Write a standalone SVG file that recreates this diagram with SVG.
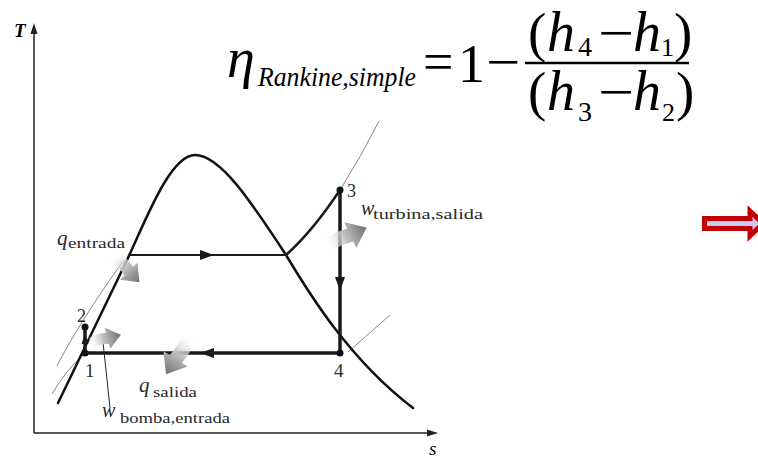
<svg xmlns="http://www.w3.org/2000/svg" width="758" height="458" viewBox="0 0 758 458">
<style>
.ser{font-family:"Liberation Serif","Times New Roman",serif;fill:#000}
.it{font-style:italic}
.lab{font-family:"Liberation Serif","Times New Roman",serif;fill:#2a2a2a}
.dome{fill:none;stroke:#111;stroke-width:2.5;stroke-linecap:round;stroke-linejoin:round}
.cyc{fill:none;stroke:#1a1a1a;stroke-width:3.5}
.thin{fill:none;stroke:#888;stroke-width:1}
.axis{fill:none;stroke:#222;stroke-width:1.5}
.hd{fill:#1a1a1a}
.ga{fill:url(#g1)}
</style>
<defs>
<linearGradient id="g1" x1="0" y1="0" x2="1" y2="0">
<stop offset="0" stop-color="#ffffff" stop-opacity="0.3"/>
<stop offset="0.45" stop-color="#bdbdbd"/>
<stop offset="1" stop-color="#707070"/>
</linearGradient>
<path id="ah" d="M-7,-5 L7,0 L-7,5 Z"/>
<path id="garrow" d="M0,-5.5 Q10,-7.5 18,-5.5 L18,-11 L32,0 L18,11 L18,5.5 Q10,3.5 0,5.5 Z"/>
</defs>
<rect width="758" height="458" fill="#fff"/>

<g id="formula">
<text class="ser it" x="227" y="77" font-size="56">η</text>
<text class="ser it" x="258" y="86" font-size="27" textLength="158" lengthAdjust="spacingAndGlyphs">Rankine,simple</text>
<text class="ser" x="423" y="80" font-size="54">=</text>
<text class="ser" x="458" y="82" font-size="54">1</text>
<text class="ser" transform="translate(486,80) scale(1.12,1)" x="0" y="0" font-size="54">−</text>
<line x1="525" y1="63" x2="689" y2="63" stroke="#000" stroke-width="2.5"/>
<text class="ser" x="528" y="51" font-size="55">(</text>
<text class="ser it" x="547" y="51" font-size="56">h</text>
<text class="ser" x="578" y="56" font-size="28">4</text>
<text class="ser" transform="translate(598,51) scale(1.18,1)" x="0" y="0" font-size="54">−</text>
<text class="ser it" x="633" y="51" font-size="56">h</text>
<text class="ser" x="661" y="56" font-size="26">1</text>
<text class="ser" x="674" y="51" font-size="55">)</text>
<text class="ser" x="528" y="110" font-size="55">(</text>
<text class="ser it" x="547" y="110" font-size="56">h</text>
<text class="ser" x="578" y="121" font-size="28">3</text>
<text class="ser" transform="translate(598,110) scale(1.18,1)" x="0" y="0" font-size="54">−</text>
<text class="ser it" x="633" y="110" font-size="56">h</text>
<text class="ser" x="662" y="121" font-size="26">2</text>
<text class="ser" x="676" y="110" font-size="55">)</text>
</g>

<g id="axes">
<line class="axis" x1="34" y1="433" x2="34" y2="30"/>
<path d="M34,23 L37.5,34 L30.5,34 Z" fill="#222"/>
<line class="axis" x1="34" y1="433" x2="430" y2="433"/>
<path d="M438,433 L427,429.5 L427,436.5 Z" fill="#222"/>
<text class="ser it" x="14" y="37" font-size="19" font-weight="bold" fill="#222">T</text>
<text class="ser it" x="429" y="455" font-size="19" fill="#333">s</text>
</g>

<g id="isobars">
<path class="thin" d="M340,190 Q361,157 379,121"/>
<path class="thin" d="M348,352 L390,315"/>
<path class="thin" d="M52,394 Q66,370 85,353"/>
<path class="thin" d="M57,366 C70,340 95,300 124,260"/>
</g>

<g id="dome">
<path class="dome" d="M58,403 L128,258 C145,222 170,155 195,155 C220,155 250,200 286,255 C310,295 350,360 413,408"/>
</g>

<g id="connectors">
<line x1="128" y1="255" x2="287" y2="255" stroke="#1a1a1a" stroke-width="2"/>
<use href="#ah" class="hd" transform="translate(207,255)"/>
<path d="M286,255 Q312,232 340,190" fill="none" stroke="#1a1a1a" stroke-width="2.5"/>
<line class="cyc" x1="340" y1="190" x2="340" y2="353"/>
<use href="#ah" class="hd" transform="translate(340,284) rotate(90)"/>
<line class="cyc" x1="340" y1="353" x2="85" y2="353"/>
<use href="#ah" class="hd" transform="translate(207,353) rotate(180)"/>
<line class="cyc" x1="85" y1="353" x2="85" y2="327"/>
<use href="#ah" class="hd" transform="translate(85,339) rotate(-90) scale(0.7)"/>
<line x1="110" y1="408" x2="103" y2="342" stroke="#222" stroke-width="1"/>
</g>

<g id="points">
<circle cx="85" cy="353" r="3.5" fill="#111"/>
<circle cx="85" cy="327" r="3.5" fill="#111"/>
<circle cx="340" cy="190" r="3.5" fill="#111"/>
<circle cx="340" cy="353" r="3.5" fill="#111"/>
<text class="lab" x="77" y="322" font-size="18">2</text>
<text class="lab" x="85" y="377" font-size="19">1</text>
<text class="lab" x="334" y="377" font-size="19">4</text>
<text class="lab" x="347" y="197" font-size="18">3</text>
</g>

<g id="flows">
<use href="#garrow" class="ga" transform="translate(115,257) rotate(46) scale(1.1)"/>
<use href="#garrow" class="ga" transform="translate(329,245) rotate(-25) scale(1.3)"/>
<use href="#garrow" class="ga" transform="translate(90,343) rotate(-15) scale(1)"/>
<use href="#garrow" class="ga" transform="translate(188,339) rotate(122) scale(1.3)"/>
</g>

<g id="labels">
<text class="lab it" x="57" y="245" font-size="21">q</text>
<text class="lab" x="68" y="248" font-size="15" textLength="57" lengthAdjust="spacingAndGlyphs">entrada</text>
<text class="lab it" x="361" y="215" font-size="20">w</text>
<text class="lab" x="373" y="219" font-size="15" textLength="110" lengthAdjust="spacingAndGlyphs">turbina,salida</text>
<text class="lab it" x="139" y="392" font-size="21">q</text>
<text class="lab" x="153" y="397" font-size="15" textLength="44" lengthAdjust="spacingAndGlyphs">salida</text>
<text class="lab it" x="102" y="417" font-size="20">w</text>
<text class="lab" x="120" y="423" font-size="15" textLength="110" lengthAdjust="spacingAndGlyphs">bomba,entrada</text>
</g>

<g id="redarrow">
<path d="M704.5,218.5 L750,218.5 L750,211 L763,223.5 L750,236 L750,228.5 L704.5,228.5 Z" fill="#ccccee" stroke="#c00000" stroke-width="5" stroke-linejoin="miter"/>
</g>
</svg>
